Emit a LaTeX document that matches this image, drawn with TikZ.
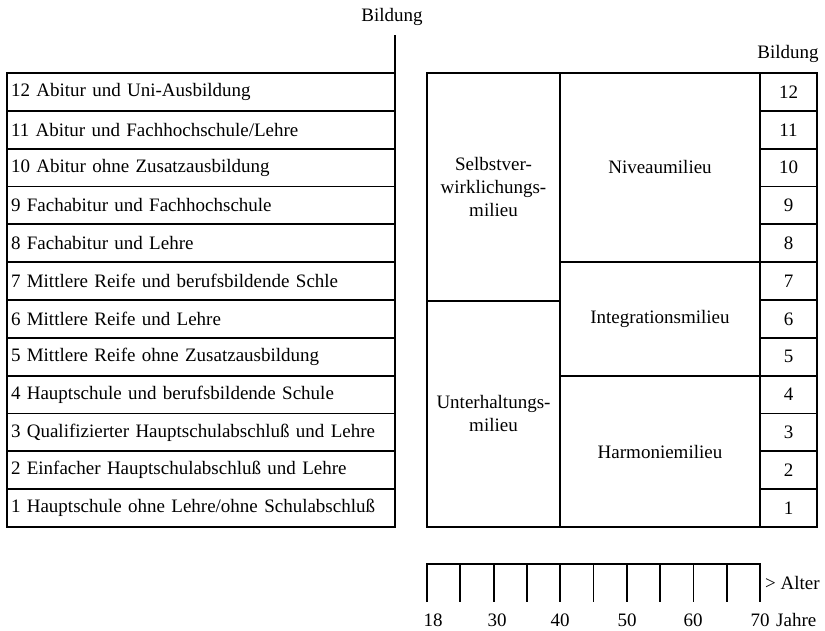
\documentclass[tikz,border=0pt]{standalone}
\usepackage{fontspec}
\setmainfont{Liberation Serif}
\tikzset{
  every node/.style={font=\fontsize{19}{23}\selectfont},
  bildrow/.style={draw,line width=1.8pt,outer sep=0pt,minimum height=37.8pt,text width=380pt,inner xsep=4pt,align=left},
  numcell/.style={draw,line width=1.8pt,outer sep=0pt,minimum height=37.8pt,minimum width=57pt,inner sep=0pt},
  milieu/.style={draw,line width=1.8pt,outer sep=0pt,align=center,inner sep=0pt}
}
\begin{document}
\begin{tikzpicture}[x=1pt,y=-1pt]
\useasboundingbox (0,0) rectangle (825,631);
\node[bildrow] (r12) at (201,91.9) {12 Abitur und Uni-Ausbildung};
\node[bildrow] (r11) at (201,129.8) {11 Abitur und Fachhochschule/Lehre};
\node[bildrow] (r10) at (201,167.6) {10 Abitur ohne Zusatzausbildung};
\node[bildrow] (r9) at (201,205.4) {9 Fachabitur und Fachhochschule};
\node[bildrow] (r8) at (201,243.2) {8 Fachabitur und Lehre};
\node[bildrow] (r7) at (201,281.1) {7 Mittlere Reife und berufsbildende Schle};
\node[bildrow] (r6) at (201,318.9) {6 Mittlere Reife und Lehre};
\node[bildrow] (r5) at (201,356.7) {5 Mittlere Reife ohne Zusatzausbildung};
\node[bildrow] (r4) at (201,394.6) {4 Hauptschule und berufsbildende Schule};
\node[bildrow] (r3) at (201,432.4) {3 Qualifizierter Hauptschulabschluß und Lehre};
\node[bildrow] (r2) at (201,470.2) {2 Einfacher Hauptschulabschluß und Lehre};
\node[bildrow] (r1) at (201,508.1) {1 Hauptschule ohne Lehre/ohne Schulabschluß};
\coordinate (axtop) at (395,35);
\draw[line width=1.8pt] (r12.north east) -- (axtop);
\node (bildl) at (392,17) {Bildung};
\node[milieu,minimum width=133pt,minimum height=228pt] (selbst) at (493.5,187) {Selbstver-\\wirklichungs-\\milieu};
\node[milieu,minimum width=133pt,minimum height=226pt] (unterh) at (493.5,414) {Unterhaltungs-\\milieu};
\node[milieu,minimum width=200pt,minimum height=189pt] (niveau) at (660,167.5) {Niveaumilieu};
\node[milieu,minimum width=200pt,minimum height=114pt] (integ) at (660,319.2) {Integrationsmilieu};
\node[milieu,minimum width=200pt,minimum height=151pt] (harm) at (660,451.6) {Harmoniemilieu};
\node[numcell] (n12) at (788.5,91.9) {12};
\node[numcell] (n11) at (788.5,129.8) {11};
\node[numcell] (n10) at (788.5,167.6) {10};
\node[numcell] (n9) at (788.5,205.4) {9};
\node[numcell] (n8) at (788.5,243.2) {8};
\node[numcell] (n7) at (788.5,281.1) {7};
\node[numcell] (n6) at (788.5,318.9) {6};
\node[numcell] (n5) at (788.5,356.7) {5};
\node[numcell] (n4) at (788.5,394.6) {4};
\node[numcell] (n3) at (788.5,432.4) {3};
\node[numcell] (n2) at (788.5,470.2) {2};
\node[numcell] (n1) at (788.5,508.1) {1};
\node (bildr) at (788,54) {Bildung};
\draw[line width=1.8pt] (427,602) -- (427,564) -- (760,564) -- (760,602);
\foreach \i in {1,...,9}
  \draw[line width=1.8pt] (427+\i*33.3,564) -- ++(0,38);
\node (a18) at (433,620) {18};
\node (a30) at (497,620) {30};
\node (a40) at (560,620) {40};
\node (a50) at (627,620) {50};
\node (a60) at (693,620) {60};
\node (a70) at (760,620) {70};
\node[anchor=west,inner sep=0pt] (alter) at (765,583) {> Alter};
\node[anchor=west,inner sep=0pt] (jahre) at (776,620) {Jahre};
\end{tikzpicture}
\end{document}
